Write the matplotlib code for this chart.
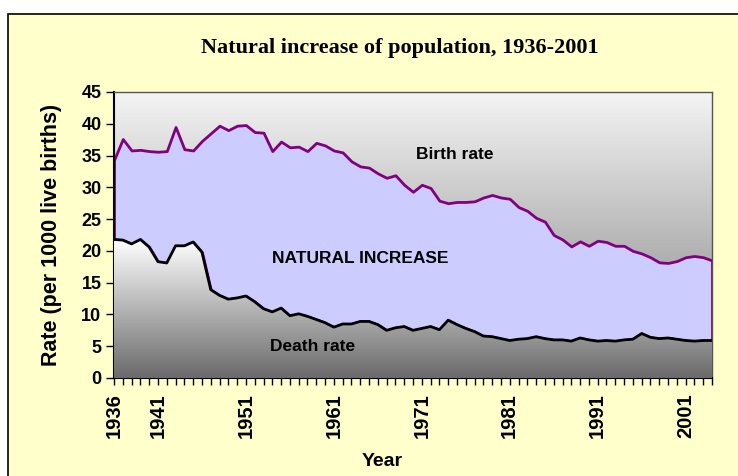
import matplotlib
matplotlib.use("Agg")
import matplotlib.pyplot as plt
import numpy as np
from matplotlib.colors import LinearSegmentedColormap
from matplotlib.patches import Polygon, Rectangle


years = list(range(1936, 2005))
birth = [34.3, 37.6, 35.8, 35.9, 35.7, 35.6, 35.7, 39.5, 36.0, 35.8,
         37.3, 38.5, 39.7, 39.0, 39.7, 39.8, 38.7, 38.6, 35.7, 37.2,
         36.3, 36.4, 35.7, 37.0, 36.6, 35.8, 35.5, 34.1, 33.3, 33.1,
         32.2, 31.5, 31.9, 30.4, 29.3, 30.4, 29.9, 27.9, 27.5, 27.7,
         27.7, 27.8, 28.4, 28.8, 28.4, 28.2, 26.9, 26.3, 25.2, 24.6,
         22.5, 21.8, 20.7, 21.5, 20.8, 21.6, 21.4, 20.8, 20.8, 20.0,
         19.6, 19.0, 18.2, 18.1, 18.4, 19.0, 19.2, 19.0, 18.5]
death = [21.8, 21.7, 21.1, 21.8, 20.6, 18.3, 18.1, 20.8, 20.8, 21.4,
         19.8, 13.9, 13.0, 12.4, 12.6, 12.9, 12.0, 10.9, 10.4, 11.0,
         9.8, 10.1, 9.7, 9.2, 8.7, 8.0, 8.5, 8.5, 8.9, 8.9,
         8.4, 7.5, 7.9, 8.1, 7.5, 7.8, 8.1, 7.6, 9.1, 8.4,
         7.8, 7.3, 6.6, 6.5, 6.2, 5.9, 6.1, 6.2, 6.5, 6.2,
         6.0, 6.0, 5.8, 6.3, 6.0, 5.8, 5.9, 5.8, 6.0, 6.1,
         7.0, 6.4, 6.2, 6.3, 6.1, 5.9, 5.8, 5.9, 5.9]
label_years = [1936, 1941, 1951, 1961, 1971, 1981, 1991, 2001]

x = np.array(years)
b = np.array(birth)
d = np.array(death)

fig = plt.figure(figsize=(7.38, 4.76), dpi=100)
fig.patch.set_facecolor("white")
fig.patches.append(Rectangle((8 / 738, -0.1), 1.2, 1 - 14 / 476 + 0.1,
                             transform=fig.transFigure, facecolor="#FFFFCC",
                             edgecolor="black", lw=1.2, zorder=-5))

ax = fig.add_axes([114 / 738, 1 - 378 / 476, 598 / 738, 286 / 476])
ax.set_zorder(1)

# plot area gradient (light top, dark bottom)
bg = LinearSegmentedColormap.from_list("bg", ["#808080", "#F4F4F4"])
ax.imshow(np.linspace(0, 1, 256)[:, None], extent=[1936, 2004, 0, 45],
          aspect="auto", cmap=bg, origin="lower", zorder=0)

# natural increase band
ax.fill_between(x, d, b, facecolor="#CCCCFF", edgecolor="#800080",
                lw=2, zorder=2)

# death rate area with its own gradient
dg = LinearSegmentedColormap.from_list("dg", ["#6A6A6A", "#FFFFFF"])
im = ax.imshow(np.linspace(0, 1, 256)[:, None], extent=[1936, 2004, 0, d.max()],
               aspect="auto", cmap=dg, origin="lower", zorder=3)
verts = np.vstack([[x[0], 0], np.column_stack([x, d]), [x[-1], 0]])
poly = Polygon(verts, closed=True, facecolor="none", edgecolor="none")
ax.add_patch(poly)
im.set_clip_path(poly)
ax.plot(x, d, color="black", lw=2, zorder=4)

ax.set_xlim(1936, 2004)
ax.set_ylim(0, 45)

ax.set_yticks(range(0, 46, 5))
ax.set_xticks(years)
ax.set_xticklabels([str(y) if y in label_years else "" for y in years],
                   rotation=90)
ax.tick_params(axis="x", direction="out", length=5, width=1, pad=6)
ax.tick_params(axis="y", direction="out", length=6, width=1, pad=3)
for lab in ax.get_yticklabels():
    lab.set_fontfamily("Liberation Sans")
    lab.set_fontweight("bold")
    lab.set_fontsize(13)
for lab in ax.get_xticklabels():
    lab.set_fontfamily("Liberation Sans")
    lab.set_fontweight("bold")
    lab.set_fontsize(14.5)

for s in ["left", "bottom"]:
    ax.spines[s].set_color("black")
    ax.spines[s].set_linewidth(1.5)
for s in ["top", "right"]:
    ax.spines[s].set_color("#555555")
    ax.spines[s].set_linewidth(1)

txt = dict(fontfamily="Liberation Sans", fontweight="bold", fontsize=12.5,
           ha="center", va="center", zorder=5)
ax.text(1974.8, 35.2, "Birth rate", **txt)
ax.text(1964.0, 18.8, "NATURAL INCREASE", **txt)
ax.text(1958.6, 5.0, "Death rate", **txt)

fig.text(400 / 738, 1 - 48 / 476, "Natural increase of population, 1936-2001",
         fontfamily="Liberation Serif", fontweight="bold", fontsize=16,
         ha="center", va="center")
fig.text(52 / 738, 1 - 235 / 476, "Rate (per 1000 live births)",
         fontfamily="Liberation Sans", fontweight="bold", fontsize=15.5,
         rotation=90, ha="center", va="center")
fig.text(382 / 738, 1 - 461 / 476, "Year",
         fontfamily="Liberation Sans", fontweight="bold", fontsize=14,
         ha="center", va="center")

plt.savefig("out.png", dpi=100)
plt.close()
